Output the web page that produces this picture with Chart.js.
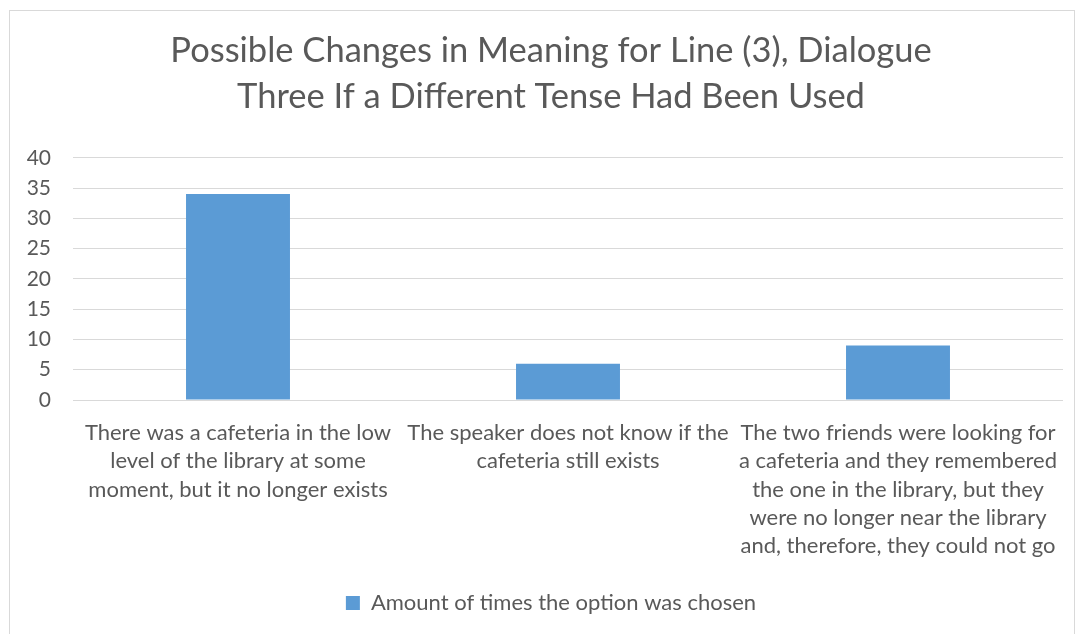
<!DOCTYPE html>
<html>
<head>
<meta charset="utf-8">
<script src="https://cdn.jsdelivr.net/npm/chart.js@4.4.1/dist/chart.umd.min.js"></script>
<style>
  html, body { margin: 0; padding: 0; background: #ffffff; }
  #wrap { width: 1083px; height: 634px; position: relative; }
</style>
</head>
<body>
<div id="wrap"><canvas id="grafico" width="1083" height="634"></canvas></div>
<script>
const titulo = ['Possible Changes in Meaning for Line (3), Dialogue', 'Three If a Different Tense Had Been Used'];

const categorias = [
  ['There was a cafeteria in the low', 'level of the library at some', 'moment, but it no longer exists'],
  ['The speaker does not know if the', 'cafeteria still exists'],
  ['The two friends were looking for', 'a cafeteria and they remembered', 'the one in the library, but they', 'were no longer near the library', 'and, therefore, they could not go']
];

const nomeSerie = 'Amount of times the option was chosen';
const valores = [34, 6, 9];

const eixoMin = 0;
const eixoMax = 40;
const eixoPasso = 5;

const corTexto = '#595959';
const corGrade = '#d9d9d9';
const corBarra = '#5b9bd5';
const fonte = 'Lato, "Open Sans", sans-serif';

// moldura cinza em volta do gráfico, como no Excel
const moldura = {
  id: 'moldura',
  beforeDraw(chart) {
    const ctx = chart.ctx;
    ctx.save();
    ctx.strokeStyle = corGrade;
    ctx.lineWidth = 1;
    ctx.strokeRect(9.5, 10.5, 1065, 640);
    ctx.restore();
  },
  // o Excel centraliza título e legenda sobre a área de plotagem, não sobre o eixo
  afterLayout(chart) {
    const desvio = 15;
    [chart.titleBlock, chart.legend].forEach(caixa => {
      if (!caixa) return;
      caixa.left += desvio;
      caixa.right += desvio;
    });
  }
};

const ctx = document.getElementById('grafico').getContext('2d');

new Chart(ctx, {
  type: 'bar',
  data: {
    labels: categorias,
    datasets: [{
      label: nomeSerie,
      data: valores,
      backgroundColor: corBarra,
      borderWidth: 0,
      barPercentage: 0.315,
      categoryPercentage: 1
    }]
  },
  options: {
    responsive: false,
    animation: false,
    layout: { padding: { top: 10, left: 9, right: 20, bottom: 10 } },
    scales: {
      x: {
        grid: { display: false, drawTicks: false },
        border: { display: false },
        ticks: {
          color: corTexto,
          font: { family: fonte, size: 22, lineHeight: 1.285 },
          padding: 19,
          maxRotation: 0,
          autoSkip: false
        },
        afterFit(scale) { scale.height = 182; }
      },
      y: {
        min: eixoMin,
        max: eixoMax,
        ticks: {
          stepSize: eixoPasso,
          color: corTexto,
          font: { family: fonte, size: 21 },
          padding: 22
        },
        grid: { color: corGrade, lineWidth: 1, drawTicks: false },
        border: { display: false },
        afterFit(scale) { scale.width = 64; }
      }
    },
    plugins: {
      title: {
        display: true,
        text: titulo,
        color: corTexto,
        font: { family: fonte, size: 34.5, weight: 'normal', lineHeight: 1.33 },
        padding: { top: 18, bottom: 38 }
      },
      legend: {
        display: true,
        position: 'bottom',
        labels: {
          color: corTexto,
          font: { family: fonte, size: 22 },
          boxWidth: 14,
          boxHeight: 14,
          padding: 10
        }
      },
      tooltip: { enabled: false }
    }
  },
  plugins: [moldura]
});
</script>
</body>
</html>
